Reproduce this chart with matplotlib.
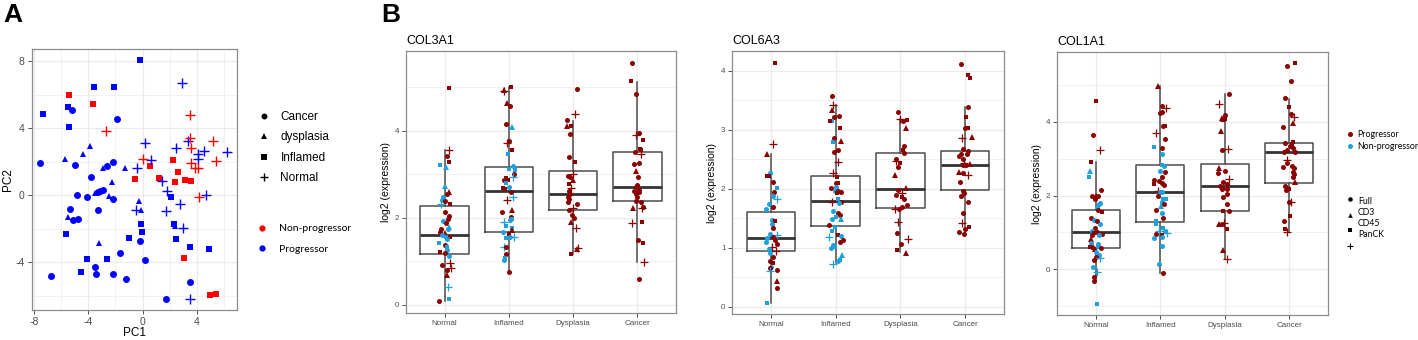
import matplotlib.pyplot as plt
from matplotlib.lines import Line2D

plt.rcParams['font.family'] = ['Liberation Sans', 'DejaVu Sans']
plt.rcParams['axes.unicode_minus'] = False

# ---------------- data ----------------
# panel A: PCA scores (PC1, PC2, tissue, group)  group: P = Progressor, N = Non-progressor
pca_points = [
    # Inflamed, progressor
    (-0.16, 8.04, 'Inflamed', 'P'), (-3.59, 6.47, 'Inflamed', 'P'), (-2.14, 6.47, 'Inflamed', 'P'),
    (-7.38, 4.84, 'Inflamed', 'P'), (-5.53, 5.28, 'Inflamed', 'P'), (-5.44, 4.05, 'Inflamed', 'P'),
    (-5.63, -2.31, 'Inflamed', 'P'), (-4.13, -3.78, 'Inflamed', 'P'), (-4.57, -4.59, 'Inflamed', 'P'),
    (-2.63, -3.82, 'Inflamed', 'P'), (-1.03, -2.53, 'Inflamed', 'P'), (-0.11, -1.71, 'Inflamed', 'P'),
    (-0.04, -2.19, 'Inflamed', 'P'), (2.13, -0.09, 'Inflamed', 'P'), (2.30, -1.70, 'Inflamed', 'P'),
    (2.50, -2.59, 'Inflamed', 'P'), (3.53, -3.07, 'Inflamed', 'P'), (4.94, -3.22, 'Inflamed', 'P'),
    # Inflamed, non-progressor
    (-5.41, 5.99, 'Inflamed', 'N'), (-3.69, 5.46, 'Inflamed', 'N'), (-0.58, 0.99, 'Inflamed', 'N'),
    (0.58, 1.74, 'Inflamed', 'N'), (1.22, 1.01, 'Inflamed', 'N'), (2.25, 2.08, 'Inflamed', 'N'),
    (2.60, 1.37, 'Inflamed', 'N'), (2.40, 0.79, 'Inflamed', 'N'), (3.16, 0.93, 'Inflamed', 'N'),
    (3.58, 0.85, 'Inflamed', 'N'), (3.09, -3.72, 'Inflamed', 'N'), (4.99, -5.95, 'Inflamed', 'N'),
    (5.41, -5.87, 'Inflamed', 'N'),
    # dysplasia, progressor
    (-3.86, 2.95, 'dysplasia', 'P'), (-4.38, 2.44, 'dysplasia', 'P'), (-5.73, 2.18, 'dysplasia', 'P'),
    (-2.90, 1.64, 'dysplasia', 'P'), (-1.32, 1.62, 'dysplasia', 'P'), (-2.23, 0.79, 'dysplasia', 'P'),
    (-3.49, 0.11, 'dysplasia', 'P'), (-2.48, -0.05, 'dysplasia', 'P'), (-0.24, -0.32, 'dysplasia', 'P'),
    (-0.09, -0.90, 'dysplasia', 'P'), (-5.53, -1.30, 'dysplasia', 'P'), (-3.22, -2.85, 'dysplasia', 'P'),
    (2.42, -1.81, 'dysplasia', 'P'),
    # Cancer, progressor
    (-5.24, 5.10, 'Cancer', 'P'), (-1.86, 4.54, 'Cancer', 'P'), (-7.58, 1.90, 'Cancer', 'P'),
    (-4.99, 1.80, 'Cancer', 'P'), (-2.16, 1.96, 'Cancer', 'P'), (-2.60, 1.76, 'Cancer', 'P'),
    (-3.84, 1.07, 'Cancer', 'P'), (-4.87, -0.01, 'Cancer', 'P'), (-4.08, -0.13, 'Cancer', 'P'),
    (-3.27, 0.21, 'Cancer', 'P'), (-3.12, 0.27, 'Cancer', 'P'), (-2.95, 0.33, 'Cancer', 'P'),
    (-2.18, -0.24, 'Cancer', 'P'), (-3.29, -0.85, 'Cancer', 'P'), (-5.36, -0.80, 'Cancer', 'P'),
    (-5.17, -1.50, 'Cancer', 'P'), (-4.80, -1.40, 'Cancer', 'P'), (-1.67, -3.46, 'Cancer', 'P'),
    (-0.19, -2.71, 'Cancer', 'P'), (0.18, -3.86, 'Cancer', 'P'), (-3.49, -4.26, 'Cancer', 'P'),
    (-3.47, -4.67, 'Cancer', 'P'), (-2.21, -4.67, 'Cancer', 'P'), (-6.79, -4.79, 'Cancer', 'P'),
    (-1.20, -5.01, 'Cancer', 'P'), (3.53, -5.17, 'Cancer', 'P'), (1.76, -6.20, 'Cancer', 'P'),
    # Normal, progressor
    (2.89, 6.67, 'Normal', 'P'), (0.18, 3.11, 'Normal', 'P'), (3.34, 3.25, 'Normal', 'P'),
    (2.47, 2.80, 'Normal', 'P'), (6.27, 2.60, 'Normal', 'P'), (4.54, 2.64, 'Normal', 'P'),
    (4.07, 2.44, 'Normal', 'P'), (4.12, 2.14, 'Normal', 'P'), (0.60, 2.12, 'Normal', 'P'),
    (-0.41, 1.62, 'Normal', 'P'), (1.41, 0.87, 'Normal', 'P'), (1.81, 0.25, 'Normal', 'P'),
    (4.67, 0.03, 'Normal', 'P'), (2.77, -0.50, 'Normal', 'P'), (-0.46, -0.86, 'Normal', 'P'),
    (1.71, -0.96, 'Normal', 'P'), (3.01, -1.95, 'Normal', 'P'), (3.53, -6.20, 'Normal', 'P'),
    # Normal, non-progressor
    (-2.70, 3.81, 'Normal', 'N'), (3.53, 4.78, 'Normal', 'N'), (3.51, 3.43, 'Normal', 'N'),
    (3.58, 2.84, 'Normal', 'N'), (5.21, 3.23, 'Normal', 'N'), (5.43, 2.06, 'Normal', 'N'),
    (0.01, 2.18, 'Normal', 'N'), (3.61, 1.90, 'Normal', 'N'), (3.88, 1.60, 'Normal', 'N'),
    (4.10, 1.64, 'Normal', 'N'), (4.15, -0.10, 'Normal', 'N'),
]
tissues = ['Cancer', 'dysplasia', 'Inflamed', 'Normal']
pca_groups = ['Non-progressor', 'Progressor']

# panel B
categories = ['Normal', 'Inflamed', 'Dysplasia', 'Cancer']
# box stats per category: (whisker low, q1, median, q3, whisker high)
col3a1_box = [(0.08, 1.17, 1.60, 2.27, 3.56), (0.75, 1.67, 2.61, 3.16, 5.02),
              (1.17, 2.19, 2.55, 3.08, 4.24), (0.98, 2.38, 2.70, 3.52, 5.12)]
col6a3_box = [(0.07, 0.94, 1.16, 1.61, 2.58), (0.74, 1.37, 1.79, 2.22, 3.41),
              (0.93, 1.68, 2.00, 2.61, 3.18), (1.22, 1.97, 2.40, 2.64, 3.39)]
col1a1_box = [(-0.33, 0.59, 1.02, 1.61, 2.91), (-0.09, 1.28, 2.10, 2.82, 4.99),
              (0.27, 1.58, 2.25, 2.85, 4.75), (1.01, 2.34, 3.18, 3.42, 4.63)]

# samples: (jitter, log2 expression, segment, group)
# segment: F = Full, C3 = CD3, C45 = CD45, PK = PanCK ; group P / N
col3a1_normal = [
    (0.07, 4.98, 'C45', 'P'), (0.07, 3.57, 'PK', 'P'), (0.03, 3.42, 'F', 'P'), (0.07, 3.28, 'C45', 'P'),
    (-0.07, 3.22, 'C45', 'N'), (0.02, 3.17, 'C3', 'N'), (0.00, 2.73, 'C3', 'N'), (0.07, 2.59, 'C3', 'P'),
    (0.04, 2.54, 'F', 'P'), (-0.03, 2.49, 'F', 'N'), (-0.04, 2.42, 'F', 'N'), (-0.05, 2.33, 'PK', 'N'),
    (0.01, 2.38, 'F', 'P'), (0.09, 2.33, 'C45', 'P'), (0.00, 2.13, 'F', 'P'), (0.07, 2.04, 'F', 'P'),
    (0.05, 1.98, 'F', 'P'), (-0.03, 1.93, 'F', 'N'), (0.02, 1.89, 'F', 'P'), (0.07, 1.80, 'C3', 'N'),
    (0.05, 1.74, 'F', 'N'), (-0.05, 1.74, 'F', 'P'), (-0.07, 1.67, 'F', 'P'), (0.00, 1.64, 'C3', 'P'),
    (-0.04, 1.61, 'F', 'N'), (0.02, 1.55, 'C45', 'N'), (0.09, 1.55, 'C45', 'P'), (0.04, 1.52, 'F', 'N'),
    (-0.09, 1.43, 'C45', 'N'), (0.00, 1.38, 'F', 'P'), (0.04, 1.34, 'C45', 'N'), (0.03, 1.25, 'F', 'N'),
    (-0.07, 1.22, 'C45', 'P'), (0.00, 1.19, 'F', 'P'), (0.07, 1.12, 'F', 'N'), (0.09, 0.96, 'PK', 'P'),
    (-0.04, 0.92, 'F', 'P'), (0.10, 0.84, 'PK', 'P'), (0.04, 0.79, 'F', 'P'), (0.04, 0.69, 'C3', 'P'),
    (0.06, 0.41, 'PK', 'N'), (0.07, 0.13, 'C45', 'N'), (-0.09, 0.08, 'F', 'P'),
]
col3a1_inflamed = [
    (0.04, 5.02, 'C45', 'P'), (-0.08, 4.95, 'C3', 'P'), (-0.07, 4.91, 'PK', 'P'), (-0.03, 4.64, 'C3', 'P'),
    (0.01, 4.57, 'F', 'P'), (-0.05, 4.17, 'F', 'P'), (0.05, 4.09, 'C3', 'N'), (0.00, 3.77, 'F', 'P'),
    (-0.03, 3.73, 'PK', 'P'), (0.05, 3.55, 'C45', 'P'), (-0.02, 3.48, 'C45', 'N'), (0.07, 3.20, 'F', 'N'),
    (0.00, 3.13, 'C45', 'N'), (0.09, 3.11, 'C45', 'N'), (0.08, 3.01, 'F', 'P'), (0.07, 2.94, 'PK', 'N'),
    (-0.05, 2.91, 'C45', 'P'), (-0.08, 2.87, 'F', 'P'), (-0.01, 2.87, 'C45', 'P'), (-0.04, 2.81, 'C45', 'N'),
    (0.00, 2.72, 'F', 'N'), (-0.09, 2.69, 'C45', 'P'), (-0.06, 2.66, 'C45', 'P'), (0.04, 2.60, 'F', 'P'),
    (0.07, 2.49, 'PK', 'N'), (-0.03, 2.42, 'PK', 'P'), (0.05, 2.19, 'C3', 'P'), (-0.10, 2.13, 'F', 'P'),
    (0.03, 2.03, 'F', 'P'), (0.05, 1.98, 'C45', 'N'), (0.02, 1.95, 'F', 'N'), (-0.07, 1.91, 'PK', 'N'),
    (-0.04, 1.82, 'C45', 'N'), (0.05, 1.77, 'C45', 'N'), (0.05, 1.72, 'C3', 'P'), (-0.09, 1.67, 'F', 'N'),
    (0.00, 1.62, 'C45', 'P'), (-0.05, 1.54, 'C45', 'N'), (0.02, 1.57, 'F', 'N'), (0.08, 1.56, 'PK', 'N'),
    (-0.07, 1.34, 'PK', 'N'), (-0.05, 1.32, 'F', 'P'), (-0.05, 1.16, 'F', 'P'), (-0.06, 1.08, 'C45', 'N'),
    (-0.08, 1.03, 'F', 'N'), (0.00, 0.75, 'F', 'P'),
]
col3a1_dysplasia = [
    (0.06, 4.96, 'F', 'P'), (0.03, 4.40, 'PK', 'P'), (-0.10, 4.26, 'F', 'P'), (-0.09, 4.11, 'C3', 'P'),
    (-0.04, 4.11, 'C45', 'P'), (-0.05, 3.94, 'F', 'P'), (-0.06, 3.40, 'F', 'P'), (0.03, 3.29, 'C45', 'P'),
    (0.00, 3.01, 'PK', 'P'), (-0.08, 2.96, 'F', 'P'), (-0.05, 2.94, 'F', 'P'), (-0.01, 2.87, 'C3', 'P'),
    (-0.07, 2.77, 'C45', 'P'), (-0.03, 2.69, 'PK', 'P'), (-0.06, 2.62, 'F', 'P'), (-0.05, 2.56, 'F', 'P'),
    (-0.08, 2.49, 'F', 'P'), (-0.06, 2.43, 'F', 'P'), (-0.08, 2.36, 'F', 'P'), (0.06, 2.31, 'F', 'P'),
    (-0.07, 2.18, 'F', 'P'), (0.00, 2.22, 'PK', 'P'), (-0.02, 2.07, 'F', 'P'), (0.01, 2.00, 'F', 'P'),
    (-0.03, 1.91, 'C3', 'P'), (0.04, 1.76, 'PK', 'P'), (0.08, 1.30, 'PK', 'P'), (0.06, 1.28, 'C3', 'P'),
    (-0.04, 1.17, 'C45', 'P'),
]
col3a1_cancer = [
    (-0.09, 5.57, 'F', 'P'), (-0.10, 5.14, 'C45', 'P'), (-0.03, 4.84, 'F', 'P'), (0.03, 3.95, 'F', 'P'),
    (-0.02, 3.90, 'PK', 'P'), (0.09, 3.79, 'C45', 'P'), (0.04, 3.59, 'C45', 'P'), (0.06, 3.56, 'C45', 'P'),
    (0.06, 3.48, 'PK', 'P'), (-0.04, 3.51, 'F', 'P'), (0.02, 3.27, 'F', 'P'), (-0.06, 3.23, 'F', 'P'),
    (-0.02, 3.08, 'C3', 'P'), (0.01, 2.93, 'F', 'P'), (-0.01, 2.75, 'F', 'P'), (-0.03, 2.70, 'F', 'P'),
    (0.02, 2.65, 'F', 'P'), (-0.05, 2.62, 'F', 'P'), (0.03, 2.60, 'F', 'P'), (-0.02, 2.56, 'F', 'P'),
    (0.00, 2.49, 'F', 'P'), (-0.02, 2.39, 'F', 'P'), (0.06, 2.37, 'F', 'P'), (0.08, 2.26, 'F', 'P'),
    (-0.07, 2.23, 'C3', 'P'), (0.07, 2.22, 'PK', 'P'), (0.07, 1.91, 'C45', 'P'), (-0.09, 1.89, 'PK', 'P'),
    (0.01, 1.48, 'F', 'P'), (0.08, 1.41, 'C45', 'P'), (0.10, 0.98, 'PK', 'P'), (0.02, 0.59, 'F', 'P'),
]

col6a3_normal = [
    (0.07, 4.12, 'C45', 'P'), (0.04, 2.75, 'PK', 'P'), (-0.06, 2.58, 'C3', 'P'), (-0.02, 2.27, 'F', 'N'),
    (-0.06, 2.21, 'C45', 'P'), (-0.03, 2.21, 'C45', 'P'), (0.03, 2.12, 'F', 'P'), (0.10, 2.01, 'C45', 'N'),
    (0.05, 1.95, 'F', 'P'), (0.03, 1.88, 'F', 'N'), (0.10, 1.82, 'PK', 'N'), (-0.03, 1.74, 'F', 'N'),
    (-0.08, 1.66, 'F', 'N'), (0.04, 1.69, 'F', 'P'), (0.01, 1.47, 'F', 'N'), (0.06, 1.46, 'C45', 'P'),
    (0.01, 1.40, 'F', 'N'), (0.04, 1.33, 'F', 'P'), (-0.01, 1.24, 'F', 'N'), (0.09, 1.22, 'PK', 'N'),
    (-0.06, 1.16, 'F', 'N'), (0.03, 1.18, 'F', 'P'), (0.07, 1.14, 'F', 'P'), (-0.08, 1.10, 'F', 'N'),
    (0.09, 1.07, 'F', 'P'), (0.01, 1.02, 'PK', 'P'), (-0.03, 0.98, 'F', 'N'), (0.08, 0.95, 'PK', 'P'),
    (-0.02, 0.91, 'F', 'N'), (0.03, 0.85, 'F', 'P'), (-0.02, 0.78, 'F', 'P'), (0.03, 0.74, 'C45', 'P'),
    (0.00, 0.68, 'F', 'N'), (-0.02, 0.65, 'F', 'P'), (-0.01, 0.61, 'PK', 'N'), (0.09, 0.62, 'F', 'P'),
    (0.09, 0.44, 'C3', 'P'), (0.10, 0.32, 'F', 'P'), (-0.06, 0.07, 'C45', 'N'),
]
col6a3_inflamed = [
    (-0.05, 3.57, 'F', 'P'), (-0.04, 3.42, 'PK', 'P'), (-0.06, 3.34, 'C3', 'P'), (0.05, 3.23, 'F', 'P'),
    (-0.02, 3.22, 'F', 'P'), (-0.05, 3.14, 'C45', 'N'), (-0.09, 3.14, 'C45', 'P'), (0.06, 3.02, 'C45', 'P'),
    (-0.03, 2.85, 'F', 'P'), (-0.04, 2.79, 'C45', 'N'), (0.09, 2.80, 'C3', 'P'), (0.04, 2.65, 'F', 'P'),
    (-0.02, 2.62, 'F', 'P'), (0.04, 2.45, 'PK', 'P'), (-0.04, 2.27, 'PK', 'P'), (0.02, 2.20, 'C45', 'P'),
    (0.01, 2.10, 'F', 'P'), (0.03, 2.10, 'C45', 'P'), (-0.07, 2.02, 'F', 'P'), (0.00, 2.03, 'F', 'N'),
    (-0.01, 1.96, 'F', 'N'), (0.04, 1.96, 'F', 'P'), (0.09, 1.95, 'F', 'P'), (0.02, 1.92, 'C45', 'P'),
    (0.03, 1.82, 'C45', 'N'), (0.08, 1.78, 'F', 'P'), (-0.05, 1.78, 'PK', 'P'), (0.05, 1.75, 'F', 'N'),
    (-0.04, 1.62, 'F', 'N'), (0.04, 1.59, 'F', 'P'), (0.07, 1.55, 'F', 'P'), (0.00, 1.52, 'C45', 'N'),
    (-0.05, 1.49, 'F', 'N'), (0.08, 1.49, 'C3', 'N'), (-0.10, 1.38, 'F', 'P'), (-0.01, 1.36, 'C45', 'N'),
    (-0.05, 1.28, 'C45', 'N'), (0.03, 1.22, 'C45', 'P'), (-0.10, 1.18, 'PK', 'N'), (0.09, 1.20, 'F', 'N'),
    (0.11, 1.14, 'F', 'P'), (-0.04, 1.05, 'F', 'N'), (0.07, 1.10, 'F', 'P'), (-0.07, 0.99, 'F', 'N'),
    (-0.01, 1.01, 'C45', 'N'), (0.10, 0.88, 'C3', 'N'), (0.06, 0.80, 'C45', 'N'), (0.04, 0.77, 'F', 'N'),
    (-0.04, 0.72, 'PK', 'N'),
]
col6a3_dysplasia = [
    (-0.04, 3.29, 'F', 'P'), (-0.01, 3.18, 'PK', 'P'), (0.04, 3.14, 'F', 'P'), (0.10, 3.17, 'C45', 'P'),
    (0.08, 3.03, 'C3', 'P'), (0.06, 2.72, 'F', 'P'), (0.04, 2.66, 'C45', 'P'), (0.05, 2.60, 'F', 'P'),
    (-0.07, 2.51, 'F', 'P'), (-0.07, 2.47, 'PK', 'P'), (-0.01, 2.44, 'C45', 'P'), (-0.03, 2.37, 'F', 'P'),
    (-0.09, 2.23, 'C3', 'P'), (0.08, 2.02, 'C3', 'P'), (-0.04, 1.97, 'F', 'P'), (-0.07, 1.90, 'F', 'P'),
    (0.03, 1.92, 'PK', 'P'), (0.03, 1.86, 'C45', 'P'), (0.05, 1.82, 'F', 'P'), (0.10, 1.73, 'F', 'P'),
    (0.03, 1.69, 'F', 'P'), (-0.08, 1.65, 'PK', 'P'), (-0.02, 1.66, 'F', 'P'), (-0.03, 1.44, 'PK', 'P'),
    (-0.05, 1.25, 'F', 'P'), (0.11, 1.15, 'PK', 'P'), (0.01, 1.06, 'F', 'P'), (-0.05, 0.97, 'C45', 'P'),
    (0.09, 0.92, 'C3', 'P'),
]
col6a3_cancer = [
    (-0.07, 4.11, 'F', 'P'), (0.05, 3.92, 'C45', 'P'), (0.07, 3.88, 'C45', 'P'), (0.05, 3.39, 'F', 'P'),
    (0.02, 3.22, 'C45', 'P'), (0.04, 3.03, 'C45', 'P'), (0.00, 3.02, 'F', 'P'), (-0.05, 2.86, 'PK', 'P'),
    (0.11, 2.87, 'C3', 'P'), (-0.03, 2.67, 'F', 'P'), (0.04, 2.64, 'F', 'P'), (-0.07, 2.58, 'F', 'P'),
    (0.03, 2.59, 'F', 'P'), (-0.09, 2.55, 'F', 'P'), (-0.04, 2.51, 'F', 'P'), (-0.01, 2.44, 'PK', 'P'),
    (0.08, 2.42, 'C3', 'P'), (0.02, 2.40, 'F', 'P'), (-0.03, 2.40, 'F', 'P'), (-0.09, 2.28, 'C3', 'P'),
    (-0.03, 2.26, 'F', 'P'), (0.04, 2.24, 'PK', 'P'), (-0.08, 2.11, 'F', 'P'), (-0.04, 1.96, 'F', 'P'),
    (-0.02, 1.93, 'F', 'P'), (-0.06, 1.88, 'F', 'P'), (0.05, 1.77, 'F', 'P'), (-0.03, 1.59, 'F', 'P'),
    (-0.05, 1.42, 'PK', 'P'), (-0.09, 1.27, 'F', 'P'), (0.06, 1.36, 'C45', 'P'), (0.00, 1.31, 'F', 'P'),
    (-0.02, 1.23, 'F', 'P'),
]

col1a1_normal = [
    (0.01, 4.56, 'C45', 'P'), (-0.04, 3.64, 'F', 'P'), (0.06, 3.24, 'PK', 'P'), (-0.07, 2.91, 'C45', 'P'),
    (-0.09, 2.68, 'C3', 'N'), (-0.10, 2.51, 'C45', 'N'), (0.08, 2.16, 'F', 'P'), (0.00, 1.98, 'C3', 'P'),
    (0.04, 2.00, 'F', 'P'), (-0.05, 2.00, 'F', 'P'), (-0.01, 1.90, 'F', 'P'), (0.07, 1.81, 'F', 'N'),
    (0.05, 1.78, 'F', 'N'), (0.02, 1.69, 'F', 'N'), (0.03, 1.61, 'F', 'P'), (0.09, 1.56, 'C45', 'P'),
    (-0.07, 1.40, 'F', 'P'), (-0.02, 1.34, 'F', 'N'), (0.02, 1.31, 'F', 'P'), (0.07, 1.22, 'F', 'N'),
    (-0.01, 1.12, 'F', 'P'), (-0.06, 1.04, 'F', 'N'), (0.02, 1.02, 'F', 'P'), (-0.02, 0.98, 'C45', 'P'),
    (0.09, 0.96, 'F', 'P'), (0.05, 0.93, 'F', 'N'), (-0.08, 0.83, 'C3', 'P'), (-0.05, 0.93, 'F', 'P'),
    (-0.07, 0.71, 'F', 'N'), (0.04, 0.68, 'F', 'N'), (0.04, 0.62, 'F', 'N'), (-0.09, 0.60, 'C45', 'P'),
    (-0.05, 0.60, 'F', 'P'), (0.08, 0.58, 'F', 'P'), (-0.01, 0.54, 'C3', 'P'), (0.01, 0.48, 'F', 'N'),
    (0.05, 0.39, 'F', 'N'), (0.00, 0.33, 'F', 'P'), (-0.03, 0.26, 'F', 'P'), (0.06, 0.30, 'PK', 'N'),
    (-0.04, 0.07, 'F', 'N'), (0.02, -0.06, 'PK', 'N'), (-0.03, -0.20, 'F', 'P'), (-0.02, -0.33, 'F', 'P'),
    (0.02, -0.94, 'C45', 'N'),
]
col1a1_inflamed = [
    (-0.04, 4.99, 'C3', 'P'), (0.02, 4.43, 'F', 'P'), (0.09, 4.38, 'PK', 'P'), (0.03, 4.26, 'F', 'P'),
    (0.00, 4.24, 'F', 'P'), (-0.07, 3.70, 'PK', 'P'), (0.05, 3.90, 'F', 'P'), (0.08, 3.88, 'C45', 'P'),
    (0.08, 3.54, 'F', 'P'), (-0.10, 3.32, 'C45', 'N'), (0.03, 3.29, 'F', 'P'), (0.02, 3.13, 'F', 'N'),
    (0.03, 2.83, 'C45', 'N'), (0.06, 2.81, 'F', 'N'), (-0.01, 2.66, 'F', 'N'), (0.08, 2.63, 'F', 'P'),
    (0.03, 2.50, 'F', 'P'), (-0.09, 2.43, 'F', 'P'), (-0.02, 2.41, 'F', 'P'), (-0.10, 2.32, 'C45', 'P'),
    (0.03, 2.34, 'F', 'P'), (0.06, 2.29, 'F', 'P'), (-0.04, 2.13, 'PK', 'P'), (-0.01, 2.09, 'F', 'N'),
    (0.03, 2.09, 'F', 'N'), (-0.03, 1.98, 'F', 'P'), (0.04, 1.90, 'C45', 'N'), (0.09, 1.90, 'C45', 'N'),
    (0.02, 1.84, 'F', 'N'), (0.06, 1.77, 'F', 'P'), (0.01, 1.72, 'C3', 'N'), (-0.06, 1.60, 'F', 'P'),
    (0.02, 1.54, 'F', 'N'), (0.05, 1.39, 'F', 'P'), (-0.07, 1.31, 'C45', 'N'), (-0.07, 1.23, 'C45', 'N'),
    (0.05, 1.11, 'C45', 'N'), (0.08, 1.05, 'F', 'N'), (-0.02, 1.05, 'PK', 'N'), (0.10, 0.98, 'PK', 'N'),
    (0.02, 0.94, 'C45', 'P'), (-0.06, 0.95, 'F', 'P'), (0.03, 0.89, 'F', 'N'), (-0.10, 0.85, 'F', 'N'),
    (0.03, 0.62, 'F', 'N'), (-0.02, 0.15, 'F', 'N'), (0.05, -0.09, 'F', 'P'),
]
col1a1_dysplasia = [
    (0.06, 4.76, 'F', 'P'), (-0.09, 4.50, 'PK', 'P'), (0.00, 4.18, 'F', 'P'), (-0.05, 4.10, 'C3', 'P'),
    (0.01, 4.09, 'C45', 'P'), (-0.02, 4.09, 'C3', 'P'), (-0.06, 3.76, 'C3', 'P'), (0.05, 3.27, 'PK', 'P'),
    (-0.04, 3.25, 'F', 'P'), (-0.09, 2.75, 'C3', 'P'), (0.01, 2.68, 'F', 'P'), (-0.10, 2.61, 'F', 'P'),
    (0.07, 2.45, 'PK', 'P'), (-0.03, 2.38, 'F', 'P'), (0.03, 2.31, 'F', 'P'), (-0.08, 2.25, 'F', 'P'),
    (-0.02, 2.21, 'C45', 'P'), (-0.05, 2.19, 'F', 'P'), (0.03, 2.19, 'F', 'P'), (0.04, 2.04, 'F', 'P'),
    (-0.03, 1.97, 'F', 'P'), (0.04, 1.78, 'F', 'P'), (-0.02, 1.58, 'C45', 'P'), (0.06, 1.59, 'F', 'P'),
    (-0.09, 1.22, 'C3', 'P'), (-0.05, 1.22, 'F', 'P'), (-0.01, 1.27, 'PK', 'P'), (0.03, 1.09, 'C45', 'P'),
    (-0.03, 0.53, 'C3', 'P'), (0.03, 0.28, 'PK', 'P'),
]
col1a1_cancer = [
    (0.09, 5.59, 'C45', 'P'), (-0.03, 5.51, 'F', 'P'), (0.03, 5.11, 'F', 'P'), (-0.06, 4.64, 'F', 'P'),
    (-0.01, 4.41, 'C45', 'P'), (0.07, 4.14, 'PK', 'P'), (0.02, 4.22, 'F', 'P'), (0.06, 3.96, 'C3', 'P'),
    (-0.09, 3.87, 'F', 'P'), (0.06, 3.47, 'C45', 'P'), (-0.06, 3.43, 'F', 'P'), (0.04, 3.41, 'C45', 'P'),
    (0.01, 3.34, 'F', 'P'), (0.06, 3.30, 'F', 'P'), (-0.03, 3.23, 'F', 'P'), (0.09, 3.19, 'F', 'P'),
    (-0.08, 3.18, 'F', 'P'), (-0.04, 2.98, 'PK', 'P'), (-0.03, 2.88, 'F', 'P'), (0.04, 2.81, 'F', 'P'),
    (-0.09, 2.77, 'F', 'P'), (0.07, 2.75, 'F', 'P'), (0.05, 2.63, 'F', 'P'), (0.08, 2.59, 'F', 'P'),
    (0.06, 2.52, 'F', 'P'), (0.09, 2.36, 'C3', 'P'), (-0.06, 2.25, 'F', 'P'), (-0.04, 2.20, 'F', 'P'),
    (-0.01, 2.19, 'C45', 'P'), (-0.05, 2.14, 'F', 'P'), (0.02, 1.83, 'PK', 'P'), (-0.01, 1.83, 'F', 'P'),
    (0.01, 1.45, 'C45', 'P'), (-0.08, 1.32, 'F', 'P'), (-0.07, 1.09, 'C45', 'P'), (-0.04, 1.01, 'PK', 'P'),
]

segments = ['Full', 'CD3', 'CD45', 'PanCK']

# ---------------- styles ----------------
W, H = 1418, 340
GRID = '#EBEBEB'
TICKC = '#4D4D4D'
FRAME = '#8C8C8C'
PROG_RED = '#8B0000'
NONPROG_BLUE = '#1DA1DC'

pca_marker = {'Cancer': ('o', 5.0), 'dysplasia': ('^', 5.0), 'Inflamed': ('s', 4.6), 'Normal': ('+', 7.5)}
pca_color = {'P': '#0000FF', 'N': '#FF0000'}
seg_marker = {'F': ('o', 3.6), 'C3': ('^', 3.7), 'C45': ('s', 3.3), 'PK': ('+', 5.5)}
grp_color = {'P': PROG_RED, 'N': NONPROG_BLUE}


def fbox(l, t, r, b):
    return [l / W, 1 - b / H, (r - l) / W, (b - t) / H]


def style_axes(ax):
    for s in ax.spines.values():
        s.set_color(FRAME)
        s.set_linewidth(0.9)
    ax.set_axisbelow(True)
    ax.grid(True, which='major', color=GRID, lw=0.9)
    ax.grid(True, which='minor', color=GRID, lw=0.5)
    ax.tick_params(which='major', length=2.7, width=0.7, color=TICKC, labelcolor=TICKC, pad=2)
    ax.tick_params(which='minor', length=0)


fig = plt.figure(figsize=(W / 100, H / 100), dpi=100)

# ---------------- panel A ----------------
axA = fig.add_axes(fbox(32, 49, 237, 310))
style_axes(axA)
for x, y, t, g in pca_points:
    m, ms = pca_marker[t]
    axA.plot(x, y, linestyle='none', marker=m, ms=ms, color=pca_color[g],
             mew=1.0 if m == '+' else 0, zorder=3)
axA.set_xlim(-8.17, 6.98)
axA.set_ylim(-6.84, 8.72)
axA.set_xticks([-8, -4, 0, 4])
axA.set_xticks([-6, -2, 2, 6], minor=True)
axA.set_yticks([-4, 0, 4, 8])
axA.set_yticks([-6, -2, 2, 6], minor=True)
axA.tick_params(labelsize=7.5, pad=2.5)
axA.set_xlabel('PC1', fontsize=8.5, labelpad=0)
axA.set_ylabel('PC2', fontsize=8.5, labelpad=1)

shape_handles = [Line2D([], [], linestyle='none', marker=pca_marker[t][0], color='black',
                        ms=pca_marker[t][1] * 0.85, mew=1.0 if t == 'Normal' else 0) for t in tissues]
fig.legend(shape_handles, tissues, loc='upper left', bbox_to_anchor=(258 / W, 1 - 111 / H),
           frameon=False, fontsize=8.5, handlelength=1.0, handletextpad=0.9,
           labelspacing=0.72, borderpad=0, borderaxespad=0)
grp_handles = [Line2D([], [], linestyle='none', marker='o', ms=4.5, mew=0, color=pca_color[k]) for k in ['N', 'P']]
fig.legend(grp_handles, pca_groups, loc='upper left', bbox_to_anchor=(257 / W, 1 - 224 / H),
           frameon=False, handlelength=1.0, handletextpad=1.1, labelspacing=1.1,
           borderpad=0, borderaxespad=0, prop={'family': 'Lato', 'size': 7.5})

fig.text(3 / W, 1 - 3 / H, 'A', fontsize=19, fontweight='bold', va='top', ha='left')
fig.text(381 / W, 1 - 3 / H, 'B', fontsize=19, fontweight='bold', va='top', ha='left')

# ---------------- panel B ----------------
def draw_gene(rect, title, box, groups, ylim, major, minor):
    ax = fig.add_axes(fbox(*rect))
    style_axes(ax)
    stats = [dict(whislo=b[0], q1=b[1], med=b[2], q3=b[3], whishi=b[4]) for b in box]
    ax.bxp(stats, positions=[1, 2, 3, 4], widths=0.75, showfliers=False, showcaps=False,
           boxprops=dict(color='#4D4D4D', lw=1.1),
           whiskerprops=dict(color='#4D4D4D', lw=1.1),
           medianprops=dict(color='#333333', lw=2.0))
    for i, pts in enumerate(groups, start=1):
        for dx, y, seg, g in pts:
            m, ms = seg_marker[seg]
            ax.plot(i + dx, y, linestyle='none', marker=m, ms=ms, color=grp_color[g],
                    mew=0.9 if m == '+' else 0, zorder=3)
    ax.set_xlim(0.4, 4.6)
    ax.set_ylim(*ylim)
    ax.set_xticks([1, 2, 3, 4])
    ax.set_xticklabels(categories)
    ax.set_yticks(major)
    ax.set_yticks(minor, minor=True)
    ax.tick_params(labelsize=5.8)
    ax.set_ylabel('log2 (expression)', fontsize=7.5, labelpad=3)
    ax.set_title(title, loc='left', fontsize=9, pad=5)
    return ax


draw_gene((406, 51, 676, 313), 'COL3A1', col3a1_box,
          [col3a1_normal, col3a1_inflamed, col3a1_dysplasia, col3a1_cancer],
          (-0.19, 5.84), [0, 2, 4], [1, 3, 5])
draw_gene((732, 51, 1004, 314), 'COL6A3', col6a3_box,
          [col6a3_normal, col6a3_inflamed, col6a3_dysplasia, col6a3_cancer],
          (-0.12, 4.33), [0, 1, 2, 3, 4], [0.5, 1.5, 2.5, 3.5])
draw_gene((1057, 52, 1328, 315), 'COL1A1', col1a1_box,
          [col1a1_normal, col1a1_inflamed, col1a1_dysplasia, col1a1_cancer],
          (-1.24, 5.9), [0, 2, 4], [-1, 1, 3, 5])

# legends of panel B
pg_handles = [Line2D([], [], linestyle='none', marker='o', ms=3.6, mew=0, color=c) for c in [PROG_RED, NONPROG_BLUE]]
fig.legend(pg_handles, ['Progressor', 'Non-progressor'], loc='upper left',
           bbox_to_anchor=(1347 / W, 1 - 130 / H), frameon=False, handlelength=0.7,
           handletextpad=0.5, labelspacing=0.3, borderpad=0, borderaxespad=0,
           prop={'family': 'Lato', 'size': 6.3})
seg_handles = [Line2D([], [], linestyle='none', marker=seg_marker[k][0], ms=seg_marker[k][1] * 0.9,
                      mew=0.8 if k == 'PK' else 0, color='black') for k in ['F', 'C3', 'C45', 'PK']]
fig.legend(seg_handles, ['', '', '', ''], loc='upper left', bbox_to_anchor=(1347 / W, 1 - 195 / H),
           frameon=False, handlelength=0.7, handletextpad=0.2, labelspacing=0.75,
           borderpad=0, borderaxespad=0, fontsize=6.3)
fig.text(1358 / W, 1 - 197 / H, '\n'.join(segments), family='Lato', fontsize=6.3,
         va='top', ha='left', linespacing=1.3)

fig.savefig('out.png', dpi=100)
